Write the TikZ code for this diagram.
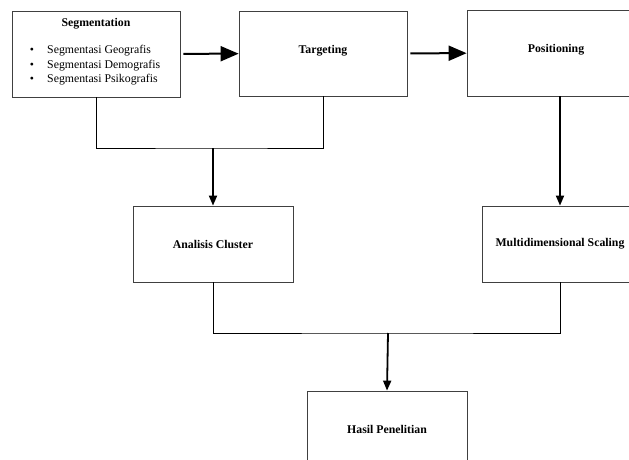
\documentclass[tikz,border=0pt]{standalone}
\usepackage{fontspec}
\setmainfont{Liberation Serif}
\usetikzlibrary{arrows.meta}

\begin{document}
\begin{tikzpicture}
[x=1pt,y=-1pt,%
  boxDecorate/.style={shape=rectangle,draw=black!75,line width=0.8pt,inner sep=0pt},%
  titleDecorate/.style={inner sep=0pt,font=\fontsize{11.8}{14}\selectfont\bfseries},%
  textDecorate/.style={inner sep=0pt,font=\fontsize{11.8}{14}\selectfont},%
  lineDecorate/.style={-,line width=0.8pt},%
  flowDecorate/.style={-{Triangle[length=18pt,width=15pt]},line width=2pt},%
  downDecorate/.style={-{Triangle[length=10pt,width=8pt]},line width=1.8pt}]
\useasboundingbox (0,0) rectangle (629,460);
\clip (0,0) rectangle (629,460);
%% boxes
\foreach \nodename/\x/\y/\w/\h/\dy/\caption in {
  seg/96/54/168/86/30/Segmentation, targ/323/53.5/168/85/2.5/Targeting,
  pos/556/53/178/86/3.5/Positioning, clu/213/244/160/76/0/Analisis Cluster,
  mds/560/244/156/76/0/Multidimensional Scaling, hasil/387/429/160/76/0/Hasil Penelitian}
{
  \node (\nodename) at (\x,\y) [boxDecorate,minimum width=\w pt,minimum height=\h pt] {};
  \node (\nodename title) at (\nodename.center) [titleDecorate,yshift=\dy pt] {\caption};
}
%% segmentation contents
\foreach \i/\y/\kind in {1/51/Geografis, 2/65.5/Demografis, 3/80/Psikografis}
{
  \node (bullet\i) at (32,\y) [textDecorate] {\textbullet};
  \node (kind\i) at (47,\y) [textDecorate,anchor=west] {Segmentasi \kind};
}
%% connectors
\coordinate (joinTop) at (213,148);
\coordinate (joinBottom) at (388,333);
\draw [flowDecorate,shorten <=3pt] (seg) -- (targ);
\draw [flowDecorate,shorten <=3pt] (targ) -- (pos);
\draw [lineDecorate] (seg.south) |- (joinTop) -| (targ.south);
\draw [downDecorate] (joinTop) -- (clu.north);
\draw [downDecorate] (pos.south -| mds.north) -- (mds.north);
\draw [lineDecorate] (clu.south) |- (joinBottom) -| (mds.south);
\draw [downDecorate] (joinBottom) -- (hasil.north);
\end{tikzpicture}
\end{document}
